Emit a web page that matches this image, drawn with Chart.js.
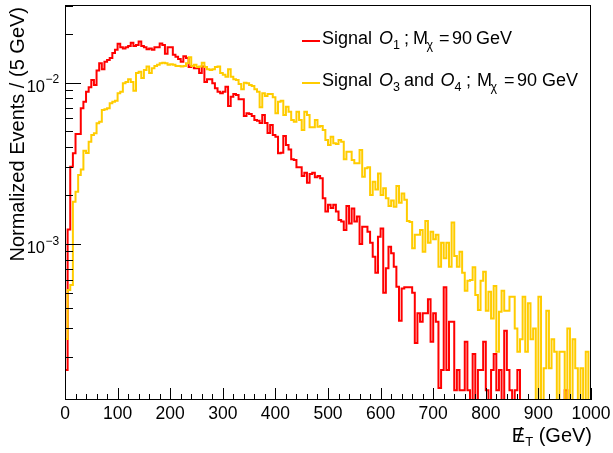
<!DOCTYPE html>
<html>
<head>
<meta charset="utf-8">
<title>MET distribution</title>
<script src="https://cdn.jsdelivr.net/npm/chart.js@4.4.1/dist/chart.umd.min.js"></script>
<style>
  html, body { margin: 0; padding: 0; background: #fff; }
  #wrap { width: 613px; height: 453px; }
</style>
</head>
<body>
<div id="wrap"><canvas id="metChart" width="613" height="453"></canvas></div>
<script>
/* ========= DATA ========= */
// histogram binning (GeV)
const xMin = 0;
const xMax = 1000;
const binWidth = 5;

// normalized events per 5 GeV bin (0 = empty bin)
const sigO1 = [
  1.66e-4, 1.23e-3, 3.01e-3, 3.65e-3, 4.81e-3, 4.81e-3, 6.94e-3, 7.62e-3, 8.79e-3, 9.37e-3,
  1.04e-2, 9.68e-3, 1.19e-2, 1.32e-2, 1.21e-2, 1.35e-2, 1.38e-2, 1.42e-2, 1.53e-2, 1.60e-2,
  1.74e-2, 1.66e-2, 1.63e-2, 1.66e-2, 1.69e-2, 1.77e-2, 1.69e-2, 1.71e-2, 1.80e-2, 1.69e-2,
  1.66e-2, 1.61e-2, 1.63e-2, 1.60e-2, 1.66e-2, 1.66e-2, 1.75e-2, 1.71e-2, 1.51e-2, 1.66e-2,
  1.66e-2, 1.49e-2, 1.45e-2, 1.40e-2, 1.35e-2, 1.46e-2, 1.42e-2, 1.25e-2, 1.27e-2, 1.23e-2,
  1.23e-2, 1.15e-2, 1.26e-2, 1.01e-2, 1.05e-2, 1.05e-2, 9.91e-3, 9.23e-3, 8.79e-3, 8.60e-3,
  8.79e-3, 9.44e-3, 7.17e-3, 8.19e-3, 8.51e-3, 8.39e-3, 7.89e-3, 7.89e-3, 6.22e-3, 6.46e-3,
  6.40e-3, 6.22e-3, 5.87e-3, 5.81e-3, 5.63e-3, 6.31e-3, 5.63e-3, 4.88e-3, 5.47e-3, 4.74e-3,
  4.63e-3, 3.65e-3, 3.68e-3, 4.68e-3, 4.11e-3, 3.86e-3, 3.35e-3, 3.32e-3, 2.99e-3, 2.99e-3,
  2.64e-3, 2.77e-3, 2.40e-3, 2.72e-3, 2.77e-3, 2.59e-3, 2.64e-3, 2.56e-3, 1.92e-3, 1.59e-3,
  1.75e-3, 1.67e-3, 1.75e-3, 1.59e-3, 1.41e-3, 1.38e-3, 1.22e-3, 1.72e-3, 1.34e-3, 1.66e-3,
  1.38e-3, 1.48e-3, 1.00e-3, 1.28e-3, 1.28e-3, 1.19e-3, 1.02e-3, 8.34e-4, 6.64e-4, 1.11e-3,
  1.25e-3, 4.99e-4, 7.07e-4, 9.62e-4, 8.76e-4, 7.23e-4, 5.43e-4, 3.35e-4, 5.31e-4, 5.39e-4,
  5.39e-4, 5.39e-4, 4.99e-4, 2.44e-4, 3.72e-4, 3.30e-4, 3.72e-4, 3.72e-4, 4.54e-4, 2.48e-4,
  3.72e-4, 3.30e-4, 1.28e-4, 1.66e-4, 5.39e-4, 1.66e-4, 3.30e-4, 3.30e-4, 1.24e-4, 1.66e-4,
  1.24e-4, 1.24e-4, 2.48e-4, 1.24e-4, 0, 2.08e-4, 0, 1.66e-4, 1.66e-4, 2.48e-4,
  1.24e-4, 0, 1.66e-4, 2.08e-4, 1.24e-4, 1.66e-4, 0, 2.90e-4, 1.66e-4, 1.24e-4,
  0, 1.24e-4, 1.66e-4, 0, 0, 0, 0, 0, 0, 0,
  0, 0, 0, 0, 0, 0, 0, 0, 0, 0,
  1.24e-4, 0, 0, 0, 0, 0, 0, 0, 0, 0
];

const sigO34 = [
  2.58e-4, 5.19e-4, 5.57e-4, 1.83e-3, 2.11e-3, 2.68e-3, 2.90e-3, 3.79e-3, 3.66e-3, 4.31e-3,
  4.74e-3, 4.86e-3, 5.60e-3, 5.73e-3, 6.77e-3, 6.84e-3, 6.94e-3, 7.45e-3, 7.62e-3, 7.73e-3,
  8.60e-3, 8.79e-3, 9.91e-3, 1.01e-2, 1.05e-2, 1.01e-2, 8.92e-3, 1.15e-2, 1.17e-2, 1.07e-2,
  1.20e-2, 1.26e-2, 1.15e-2, 1.23e-2, 1.27e-2, 1.29e-2, 1.32e-2, 1.33e-2, 1.32e-2, 1.29e-2,
  1.30e-2, 1.29e-2, 1.27e-2, 1.27e-2, 1.26e-2, 1.27e-2, 1.32e-2, 1.44e-2, 1.27e-2, 1.29e-2,
  1.25e-2, 1.26e-2, 1.33e-2, 1.25e-2, 1.21e-2, 1.20e-2, 1.21e-2, 1.25e-2, 1.26e-2, 1.15e-2,
  1.12e-2, 1.09e-2, 1.21e-2, 1.09e-2, 1.05e-2, 1.04e-2, 9.82e-3, 9.10e-3, 1.00e-2, 9.91e-3,
  9.68e-3, 9.54e-3, 9.10e-3, 8.79e-3, 7.04e-3, 8.60e-3, 8.27e-3, 8.51e-3, 8.51e-3, 8.12e-3,
  6.46e-3, 7.62e-3, 7.73e-3, 6.31e-3, 7.10e-3, 6.61e-3, 5.87e-3, 5.73e-3, 6.61e-3, 5.87e-3,
  5.09e-3, 6.61e-3, 6.31e-3, 5.29e-3, 5.29e-3, 5.87e-3, 5.34e-3, 5.39e-3, 5.09e-3, 4.41e-3,
  4.11e-3, 4.63e-3, 4.21e-3, 4.17e-3, 4.41e-3, 4.31e-3, 3.35e-3, 3.73e-3, 3.73e-3, 3.32e-3,
  3.17e-3, 3.17e-3, 3.83e-3, 2.61e-3, 2.95e-3, 2.99e-3, 2.01e-3, 2.43e-3, 2.18e-3, 2.74e-3,
  2.01e-3, 2.22e-3, 1.92e-3, 1.72e-3, 1.86e-3, 1.70e-3, 2.29e-3, 1.80e-3, 2.06e-3, 1.88e-3,
  1.39e-3, 1.37e-3, 9.40e-4, 1.14e-3, 1.14e-3, 1.22e-3, 8.96e-4, 1.39e-3, 1.02e-3, 1.19e-3,
  1.07e-3, 1.14e-3, 7.23e-4, 1.02e-3, 8.15e-4, 1.02e-3, 7.23e-4, 1.36e-3, 8.42e-4, 7.23e-4,
  8.96e-4, 6.64e-4, 5.14e-4, 5.92e-4, 5.98e-4, 7.17e-4, 4.83e-4, 3.90e-4, 5.92e-4, 6.73e-4,
  3.86e-4, 5.06e-4, 3.46e-4, 5.50e-4, 2.15e-4, 3.80e-4, 5.14e-4, 3.86e-4, 3.86e-4, 4.71e-4,
  4.71e-4, 3.00e-4, 2.15e-4, 2.57e-4, 4.71e-4, 2.15e-4, 4.29e-4, 2.57e-4, 3.00e-4, 0,
  4.71e-4, 0, 1.70e-4, 3.86e-4, 1.70e-4, 2.57e-4, 2.15e-4, 0, 2.15e-4, 2.15e-4,
  0, 3.00e-4, 0, 2.57e-4, 1.70e-4, 0, 1.70e-4, 0, 2.15e-4, 0
];

// axis ranges and ticks
const yMin = 1.08e-4;
const yMax = 3.03e-2;
const xMajorTicks = [0, 100, 200, 300, 400, 500, 600, 700, 800, 900, 1000];
const xMinorStep = 20;
const yMajorTicks = [1e-3, 1e-2];
const yMajorExp = ["\u22123", "\u22122"];
const yMinorTicks = [
  2e-4, 3e-4, 4e-4, 5e-4, 6e-4, 7e-4, 8e-4, 9e-4,
  2e-3, 3e-3, 4e-3, 5e-3, 6e-3, 7e-3, 8e-3, 9e-3,
  2e-2, 3e-2
];

const colO1 = "#ff0000";
const colO34 = "#ffcc00";
const FONT = "'Liberation Sans', Arial, Helvetica, sans-serif";

/* ========= HELPERS ========= */
// step points at lower bin edges, plus closing point at the upper edge of the last bin.
// empty bins are sent below the axis (log scale can't show 0) and get clipped there, like ROOT does
function histPoints(vals) {
  const floorVal = yMin / 10;
  const pts = vals.map((v, i) => ({ x: xMin + i * binWidth, y: v > 0 ? v : floorVal }));
  pts.push({ x: xMin + vals.length * binWidth, y: pts[pts.length - 1].y });
  return pts;
}

function font(size, italic) {
  return (italic ? "italic " : "") + size + "px " + FONT;
}

// legend entries: runs of [text, x, kind] (kind: n = normal, i = italic, s = subscript)
const legendEntries = [
  { color: colO1, y: 41, base: 43.5, runs: [
    ["Signal", 322, "n"], ["O", 379, "i"], ["1", 393, "s"], [";", 404, "n"],
    ["M", 413, "n"], ["\u03c7", 426.5, "s"], ["=", 439, "n"], ["90", 452, "n"], ["GeV", 476, "n"]
  ]},
  { color: colO34, y: 83, base: 85.5, runs: [
    ["Signal", 322, "n"], ["O", 379, "i"], ["3", 393, "s"], ["and", 404, "n"],
    ["O", 440.5, "i"], ["4", 454.5, "s"], [";", 466, "n"], ["M", 477, "n"],
    ["\u03c7", 490.5, "s"], ["=", 504, "n"], ["90", 517, "n"], ["GeV", 542, "n"]
  ]}
];

/* ========= ROOT-STYLE FRAME / AXES ========= */
const rootFrame = {
  id: "rootFrame",
  afterDatasetsDraw(chart) {
    const ctx = chart.ctx;
    const a = chart.chartArea;
    const xs = chart.scales.x;
    const ys = chart.scales.y;
    ctx.save();

    // frame
    ctx.strokeStyle = "#000";
    ctx.lineWidth = 1;
    ctx.strokeRect(a.left + 0.5, a.top + 0.5, a.right - a.left - 1, a.bottom - a.top - 1);

    // x ticks (inside, pointing up)
    ctx.beginPath();
    for (let v = xMin; v <= xMax; v += xMinorStep) {
      const px = Math.round(xs.getPixelForValue(v)) + 0.5;
      const len = xMajorTicks.includes(v) ? 12 : 6;
      ctx.moveTo(px, a.bottom);
      ctx.lineTo(px, a.bottom - len);
    }
    // y ticks (inside, pointing right)
    yMajorTicks.forEach(v => {
      const py = Math.round(ys.getPixelForValue(v)) + 0.5;
      ctx.moveTo(a.left, py);
      ctx.lineTo(a.left + 16, py);
    });
    yMinorTicks.forEach(v => {
      const py = Math.round(ys.getPixelForValue(v)) + 0.5;
      ctx.moveTo(a.left, py);
      ctx.lineTo(a.left + 8, py);
    });
    ctx.stroke();

    // x tick labels
    ctx.fillStyle = "#000";
    ctx.font = font(17.5);
    ctx.textAlign = "center";
    ctx.textBaseline = "alphabetic";
    xMajorTicks.forEach(v => {
      ctx.fillText(String(v), xs.getPixelForValue(v), 418.5);
    });

    // y tick labels: 10^n
    yMajorTicks.forEach((v, i) => {
      const py = ys.getPixelForValue(v);
      ctx.font = font(16.5);
      ctx.textAlign = "right";
      ctx.fillText("10", 45, py + 9);
      ctx.font = font(12);
      ctx.textAlign = "left";
      ctx.fillText(yMajorExp[i], 45.5, py + 0.5);
    });

    // y title
    ctx.save();
    ctx.translate(24, 7);
    ctx.rotate(-Math.PI / 2);
    ctx.font = font(20);
    ctx.textAlign = "right";
    ctx.fillText("Normalized Events / (5 GeV)", 0, 0);
    ctx.restore();

    // x title: E-slash_T (GeV), right-aligned to the axis end
    ctx.font = font(20);
    ctx.textAlign = "right";
    const unit = " (GeV)";
    const uw = ctx.measureText(unit).width;
    const xEnd = a.right + 1;
    ctx.fillText(unit, xEnd, 441.5);
    ctx.font = font(13);
    const tw = ctx.measureText("T").width;
    ctx.fillText("T", xEnd - uw, 446);
    ctx.font = font(20);
    const eRight = xEnd - uw - tw;
    const ew = ctx.measureText("E").width;
    ctx.fillText("E", eRight, 441.5);
    ctx.textAlign = "center";
    ctx.fillText("/", eRight - ew / 2 + 1, 442);

    // legend
    legendEntries.forEach(e => {
      ctx.strokeStyle = e.color;
      ctx.lineWidth = 2;
      ctx.beginPath();
      ctx.moveTo(302, e.y);
      ctx.lineTo(320, e.y);
      ctx.stroke();
      ctx.textAlign = "left";
      e.runs.forEach(([t, x, k]) => {
        if (k === "s") {
          ctx.font = font(12.5);
          ctx.fillText(t, x, e.base + 5);
        } else {
          ctx.font = font(18, k === "i");
          ctx.fillText(t, x, e.base);
        }
      });
    });

    ctx.restore();
  }
};

/* ========= CHART ========= */
document.addEventListener("DOMContentLoaded", () => {
  new Chart(document.getElementById("metChart"), {
    type: "line",
    data: {
      datasets: [
        {
          label: "Signal O1 ; M\u03c7 = 90 GeV",
          data: histPoints(sigO1),
          borderColor: colO1,
          borderWidth: 2,
          stepped: true,
          fill: false,
          pointRadius: 0,
          order: 1
        },
        {
          label: "Signal O3 and O4 ; M\u03c7 = 90 GeV",
          data: histPoints(sigO34),
          borderColor: colO34,
          borderWidth: 2,
          stepped: true,
          fill: false,
          pointRadius: 0,
          order: 0
        }
      ]
    },
    options: {
      responsive: false,
      animation: false,
      layout: { padding: { left: 65, right: 22, top: 5, bottom: 53 } },
      plugins: { legend: { display: false }, tooltip: { enabled: false } },
      scales: {
        x: { type: "linear", min: xMin, max: xMax, display: false },
        y: { type: "logarithmic", min: yMin, max: yMax, display: false }
      }
    },
    plugins: [rootFrame]
  });
});
</script>
</body>
</html>
